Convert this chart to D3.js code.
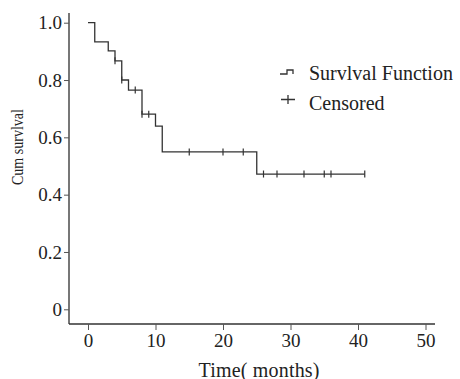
<!DOCTYPE html>
<html>
<head>
<meta charset="utf-8">
<script src="https://cdn.jsdelivr.net/npm/d3@7"></script>
<style>
  html, body { margin: 0; padding: 0; background: #fff; }
</style>
</head>
<body>
<script>
// Kaplan-Meier steps
const stepTimes = [0, 1, 3, 4, 5, 6, 8, 10, 11, 25];
const stepSurv = [1.0, 0.933, 0.902, 0.867, 0.8, 0.765, 0.681, 0.639, 0.549, 0.472];
const endTime = 41;
const censorTimes = [4, 5, 7, 8, 9, 15, 20, 23, 26, 28, 32, 35, 36, 41];
const xTicks = [0, 10, 20, 30, 40, 50];
const yTicks = [0, 0.2, 0.4, 0.6, 0.8, 1.0];
const legendItems = ['Survlval Function', 'Censored'];

const WIDTH = 460;
const HEIGHT = 379;
const FONT = "'Liberation Serif'";

const x = d3.scaleLinear([0, 50], [88, 425.5]);
const y = d3.scaleLinear([0, 1], [309.3, 22.7]);

// survival value at time t (step after)
function survAt(t) {
  let s = stepSurv[0];
  stepTimes.forEach((st, i) => { if (st <= t) s = stepSurv[i]; });
  return s;
}

const svg = d3.select('body')
  .append('svg')
  .attr('width', WIDTH)
  .attr('height', HEIGHT);

// Y axis
const yAxis = d3.axisLeft(y)
  .tickValues(yTicks)
  .tickSize(5)
  .tickSizeOuter(0)
  .tickPadding(2)
  .tickFormat((d) => (d === 0 ? '0' : d.toFixed(1)));

const gy = svg.append('g')
  .attr('transform', 'translate(69,0)')
  .call(yAxis)
  .attr('font-family', null)
  .attr('font-size', null);
gy.select('.domain').attr('d', 'M0,13V324').attr('stroke', '#555').attr('stroke-width', 1.6);
gy.selectAll('.tick line').attr('stroke', '#555');
gy.selectAll('.tick text')
  .style('font-family', FONT)
  .style('font-size', '19px')
  .attr('fill', '#222');

// X axis
const xAxis = d3.axisBottom(x)
  .tickValues(xTicks)
  .tickSize(6)
  .tickSizeOuter(0)
  .tickPadding(4)
  .tickFormat(d3.format('d'));

const gx = svg.append('g')
  .attr('transform', 'translate(0,324)')
  .call(xAxis)
  .attr('font-family', null)
  .attr('font-size', null);
gx.select('.domain').attr('d', 'M69,0H435').attr('stroke', '#333').attr('stroke-width', 1.4);
gx.selectAll('.tick line').attr('stroke', '#555');
gx.selectAll('.tick text')
  .style('font-family', FONT)
  .style('font-size', '19px')
  .attr('fill', '#222');

// Axis titles
svg.append('text')
  .attr('x', 259)
  .attr('y', 376.5)
  .attr('text-anchor', 'middle')
  .attr('textLength', 121)
  .attr('lengthAdjust', 'spacing')
  .style('font-family', FONT)
  .style('font-size', '20px')
  .attr('fill', '#222')
  .text('Time( months)');

svg.append('text')
  .attr('transform', 'translate(23,147) rotate(-90)')
  .attr('text-anchor', 'middle')
  .attr('textLength', 76)
  .attr('lengthAdjust', 'spacingAndGlyphs')
  .style('font-family', FONT)
  .style('font-size', '17px')
  .attr('fill', '#222')
  .text('Cum survlval');

// Survival curve
const curvePts = stepTimes.map((t, i) => [t, stepSurv[i]]);
curvePts.push([endTime, stepSurv[stepSurv.length - 1]]);

const line = d3.line()
  .x((d) => x(d[0]))
  .y((d) => y(d[1]))
  .curve(d3.curveStepAfter);

svg.append('path')
  .datum(curvePts)
  .attr('fill', 'none')
  .attr('stroke', '#333')
  .attr('stroke-width', 1.3)
  .attr('d', line);

// Censor marks
svg.selectAll('.censor')
  .data(censorTimes)
  .enter()
  .append('line')
  .attr('class', 'censor')
  .attr('x1', (d) => x(d))
  .attr('x2', (d) => x(d))
  .attr('y1', (d) => y(survAt(d)) - 3.5)
  .attr('y2', (d) => y(survAt(d)) + 3.5)
  .attr('stroke', '#333')
  .attr('stroke-width', 1.2);

// Legend
const legend = svg.append('g').attr('id', 'legend');

legend.append('path')
  .attr('d', 'M280,74H287V70H293V74')
  .attr('fill', 'none')
  .attr('stroke', '#333')
  .attr('stroke-width', 1.3);

legend.append('path')
  .attr('d', 'M281,99.5H295M288,95V104')
  .attr('fill', 'none')
  .attr('stroke', '#333')
  .attr('stroke-width', 1.3);

legend.selectAll('text')
  .data(legendItems)
  .enter()
  .append('text')
  .attr('x', 309)
  .attr('y', (_, i) => 80 + 30 * i)
  .style('font-family', FONT)
  .style('font-size', '20px')
  .attr('fill', '#222')
  .text((d) => d);
</script>
</body>
</html>
